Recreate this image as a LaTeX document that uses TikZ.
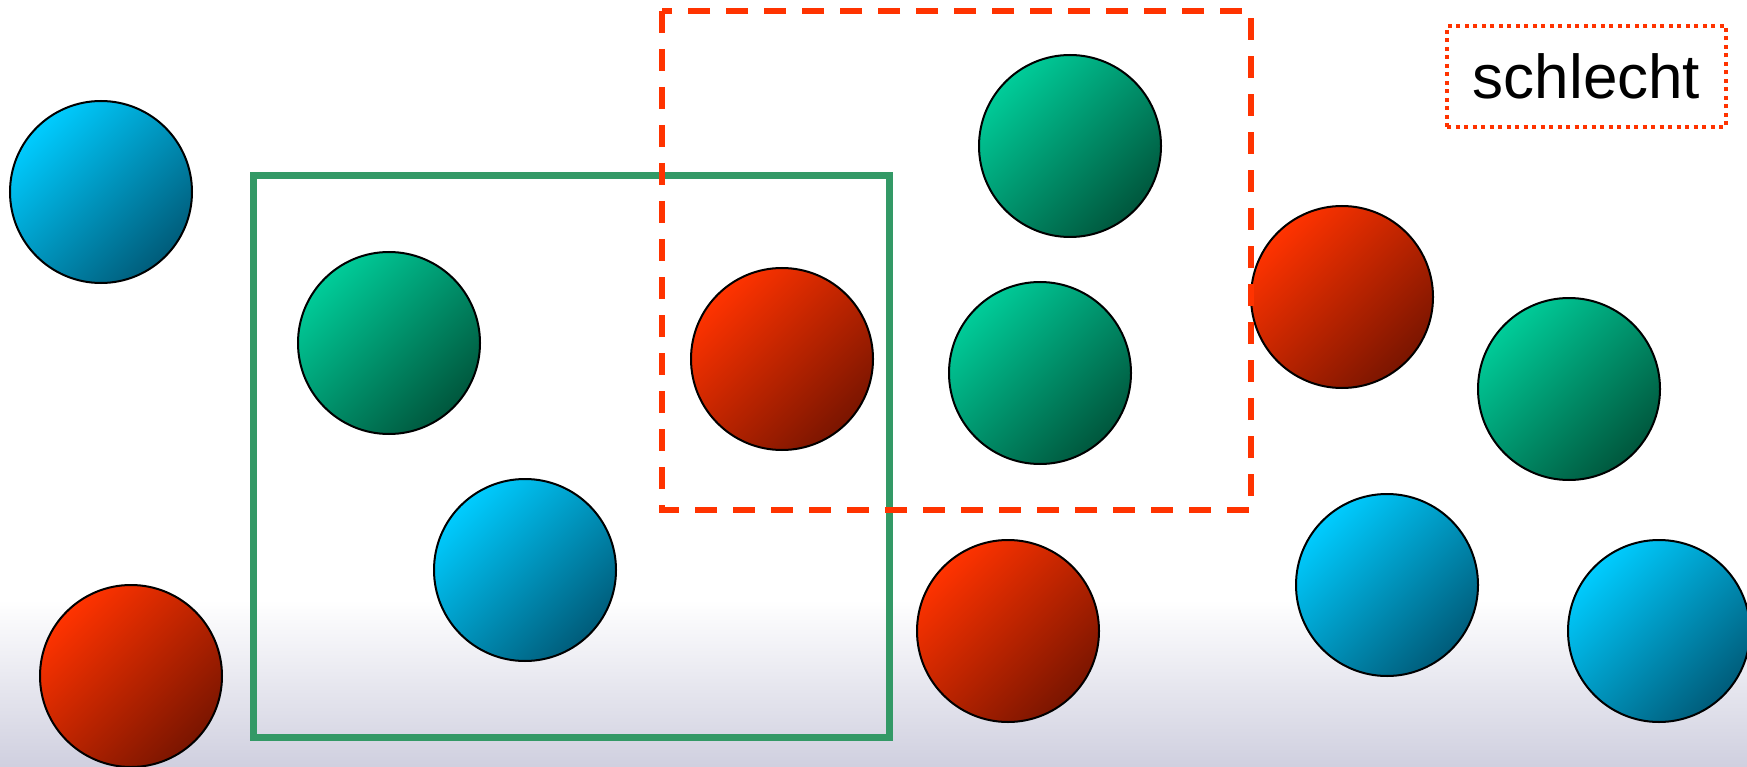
\documentclass[tikz,border=0pt]{standalone}
\usepackage{fontspec}
\setmainfont{Liberation Sans}
\definecolor{bluelight}{HTML}{00CCFF}
\definecolor{bluedark}{HTML}{005C7A}
\definecolor{greenlight}{HTML}{00CC99}
\definecolor{greendark}{HTML}{00573D}
\definecolor{redlight}{HTML}{FF3300}
\definecolor{reddark}{HTML}{7A1500}
\definecolor{framegreen}{HTML}{339966}
\definecolor{framered}{HTML}{FF3300}
\definecolor{bglav}{HTML}{C6C6D9}
\tikzset{
  ball/.style={circle, draw=black, line width=2pt, minimum size=182pt, inner sep=0pt},
  blueball/.style={ball, top color=bluelight, bottom color=bluedark, shading angle=45},
  greenball/.style={ball, top color=greenlight, bottom color=greendark, shading angle=45},
  redball/.style={ball, top color=redlight, bottom color=reddark, shading angle=45},
}
\begin{document}
\begin{tikzpicture}[x=1pt,y=-1pt]
\useasboundingbox (0,0) rectangle (1747,767);
\shade[top color=white, bottom color=bglav] (0,600) rectangle (1747,800);
\node[blueball] (b1) at (101,192) {};
\node[greenball] (g1) at (389,343) {};
\node[blueball] (b2) at (525,570) {};
\node[redball] (r1) at (131,676) {};
\node[redball] (r2) at (782,359) {};
\node[greenball] (g2) at (1070,146) {};
\node[greenball] (g3) at (1040,373) {};
\node[redball] (r3) at (1008,631) {};
\node[redball] (r4) at (1342,297) {};
\node[greenball] (g4) at (1569,389) {};
\node[blueball] (b3) at (1387,585) {};
\node[blueball] (b4) at (1659,631) {};
\draw[framegreen, line width=7pt] (253,176) rectangle (889,737);
\draw[framered, line width=5.5pt, dash pattern=on 22pt off 16pt] (662,11) rectangle (1251,510);
\node[draw=framered, line width=4pt, dash pattern=on 4pt off 4.5pt, minimum width=279pt, minimum height=101pt, inner sep=0pt, font=\fontsize{62pt}{70pt}\selectfont] (schlecht) at (1586.5,76.5) {schlecht};
\end{tikzpicture}
\end{document}
